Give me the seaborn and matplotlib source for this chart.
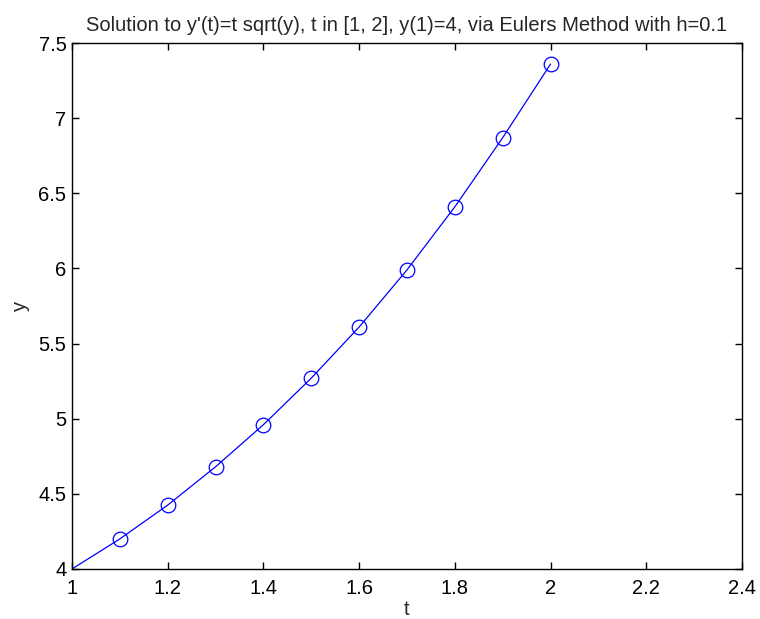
import matplotlib
matplotlib.use("Agg")
import matplotlib.pyplot as plt
import numpy as np
import seaborn as sns

# Euler steps
t_vals = [1.0, 1.1, 1.2, 1.3, 1.4, 1.5, 1.6, 1.7, 1.8, 1.9, 2.0]
y_vals = [4.0, 4.20, 4.425, 4.68, 4.96, 5.27, 5.61, 5.99, 6.41, 6.87, 7.36]

x_ticks = [1, 1.2, 1.4, 1.6, 1.8, 2, 2.2, 2.4]
x_labels = ["1", "1.2", "1.4", "1.6", "1.8", "2", "2.2", "2.4"]
y_ticks = [4, 4.5, 5, 5.5, 6, 6.5, 7, 7.5]
y_labels = ["4", "4.5", "5", "5.5", "6", "6.5", "7", "7.5"]

sns.set_style("white")
plt.rcParams['font.family'] = ['Liberation Sans', 'DejaVu Sans']
fs = 14.5

fig = plt.figure(figsize=(7.6, 6.19), dpi=100)
ax = fig.add_axes([0.0947, 0.0808, 0.8816, 0.8497])

sns.lineplot(
    x=t_vals, y=y_vals, ax=ax,
    color="blue", linewidth=0.9,
    marker="o", markersize=10.5, markerfacecolor="none",
    markeredgecolor="blue", markeredgewidth=0.9,
    markevery=list(range(1, len(t_vals))),
)

ax.set_xlim(1, 2.4)
ax.set_ylim(4, 7.5)
ax.set_xticks(x_ticks, x_labels)
ax.set_yticks(y_ticks, y_labels)
ax.tick_params(direction="in", length=5, width=1, top=True, right=True,
               bottom=True, left=True, labelsize=fs, colors="black")
ax.tick_params(axis="x", pad=7)
ax.tick_params(axis="y", pad=4)
for s in ax.spines.values():
    s.set_visible(True)
    s.set_color("black")
    s.set_linewidth(1.0)

ax.set_xlabel("t", fontsize=fs, labelpad=2)
ax.set_ylabel("y", fontsize=fs, labelpad=6)
ax.set_title("Solution to y'(t)=t sqrt(y), t in [1, 2], y(1)=4, via Eulers Method with h=0.1",
             fontsize=fs, pad=9)

fig.savefig("out.png", dpi=100)
